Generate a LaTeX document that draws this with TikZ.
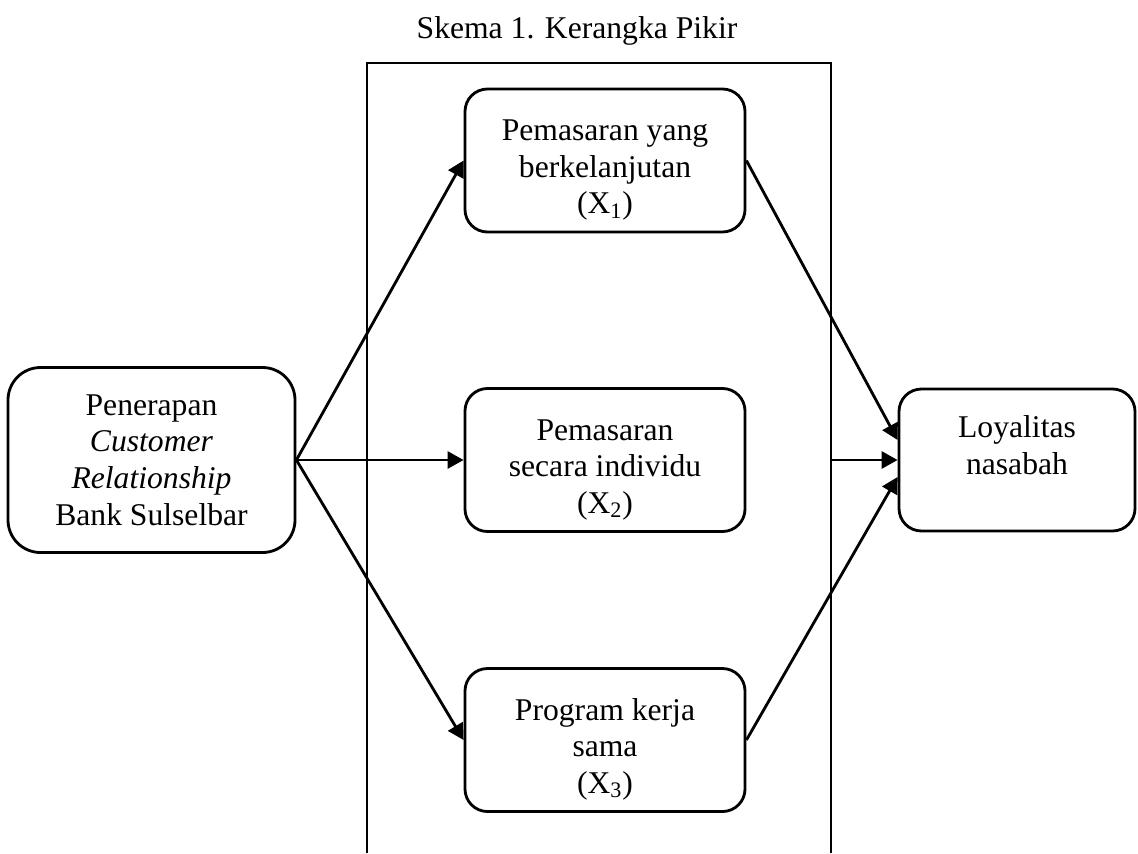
\documentclass[tikz,border=0pt]{standalone}
\usepackage{fontspec}
\setmainfont{Liberation Serif}
\usetikzlibrary{arrows.meta}

\begin{document}
\begin{tikzpicture}
	[>={Triangle[length=3.2mm,width=3.4mm]},
	 every node/.style={black,align=center,inner sep=1pt,font={\fontsize{18pt}{20.8pt}\selectfont}},
	 every path/.style={black,line width=1.6pt},
	 mainbox/.style={draw,rounded corners=6.5mm,minimum width=5.74cm,minimum height=3.7cm},
	 varbox/.style={draw,rounded corners=4.5mm,minimum width=5.6cm,minimum height=2.86cm},
	 endbox/.style={draw,rounded corners=4.5mm,minimum width=4.72cm,minimum height=2.84cm}]

\useasboundingbox (0,0) rectangle (22.76,-17.06);

\node (caption) [anchor=base] at (11.54,-0.77) {Skema 1. Kerangka Pikir};

% frame round the three variables, open at the bottom
\draw (7.34,-17.06) -- (7.34,-1.26) -- (16.62,-1.26) -- (16.62,-17.06);
\coordinate (frameout) at (16.62,-9.2);

\node [mainbox] (crm) at (3.03,-9.2) {Penerapan\\ \textit{Customer}\\ \textit{Relationship}\\ Bank Sulselbar};

% the rule lowers the text a little in the box
\node [varbox] (xa) at (12.1,-3.21) {\rule{0pt}{0.8cm}Pemasaran yang\\ berkelanjutan\\ (X\textsubscript{1})};
\node [varbox] (xb) at (12.1,-9.2) {\rule{0pt}{0.8cm}Pemasaran\\ secara individu\\ (X\textsubscript{2})};
\node [varbox] (xc) at (12.1,-14.8) {\rule{0pt}{0.8cm}Program kerja\\ sama\\ (X\textsubscript{3})};

\node [endbox] (loyal) at (20.34,-9.2) {\rule{0pt}{0.8cm}Loyalitas\\ nasabah\\ \strut};

\draw[->] (crm.east) -- (xa.west);
\draw[->] (crm.east) -- (xb.west);
\draw[->] (crm.east) -- (xc.west);

\draw[->] (xa.east) -- ([yshift=4mm]loyal.west);
\draw[->] (frameout) -- (loyal.west);
\draw[->] (xc.east) -- ([yshift=-3.4mm]loyal.west);

\end{tikzpicture}
\end{document}
